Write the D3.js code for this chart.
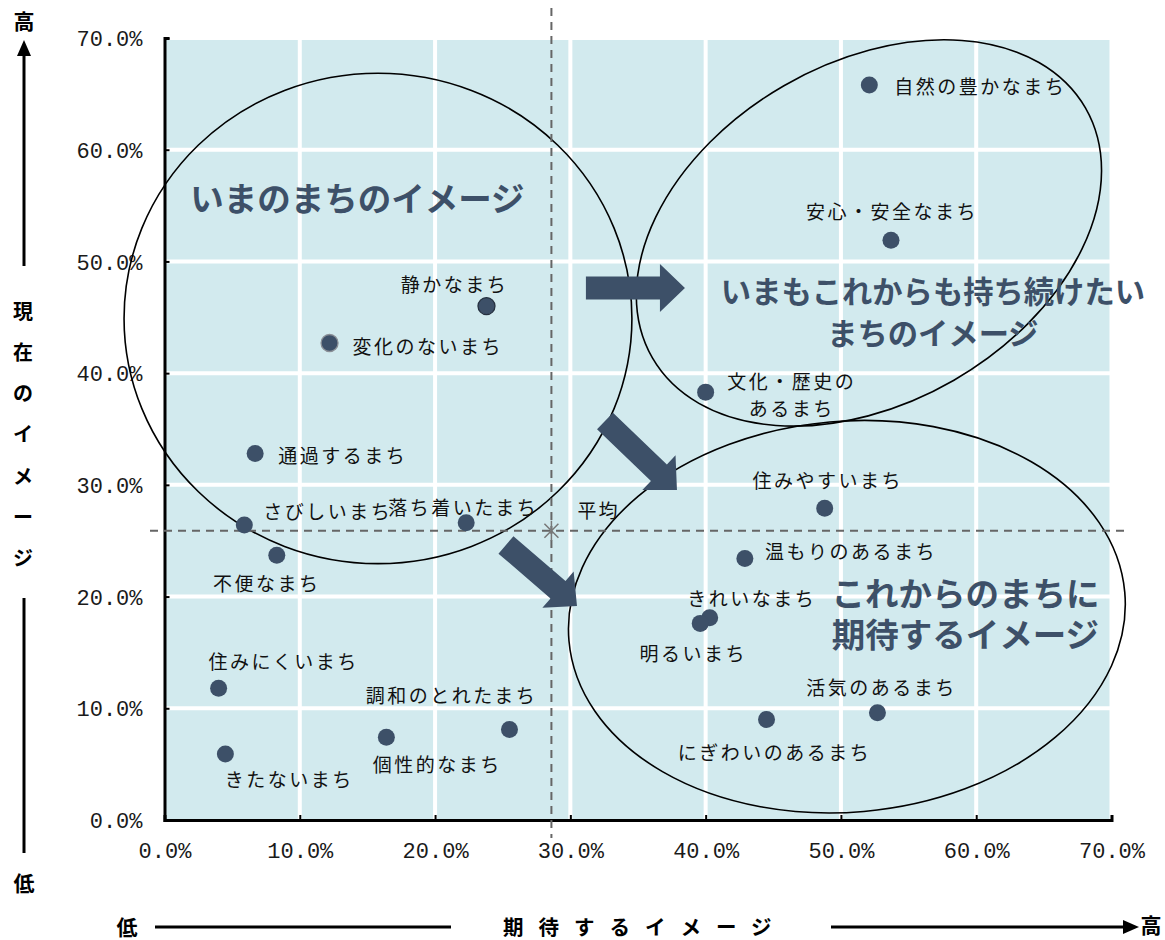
<!DOCTYPE html>
<html><head><meta charset="utf-8">
<script src="https://cdn.jsdelivr.net/npm/d3@7"></script>
<style>body{margin:0;background:#fff;} svg{display:block;}</style>
</head><body><svg id="c" width="1165" height="940"></svg>
<script>
// ---------- data ----------
const names = ["自然の豊かなまち","安心・安全なまち","静かなまち","変化のないまち","文化・歴史の\nあるまち","通過するまち","住みやすいまち","さびしいまち","落ち着いたまち","不便なまち","温もりのあるまち","きれいなまち","明るいまち","住みにくいまち","活気のあるまち","にぎわいのあるまち","調和のとれたまち","個性的なまち","きたないまち"];
const expectVals  = [52.1,53.7,23.8,12.2,40.0,6.7,48.8,5.9,22.3,8.3,42.9,40.3,39.6,4.0,52.7,44.5,25.5,16.4,4.5];
const currentVals = [65.8,51.9,46.0,42.7,38.3,32.8,27.9,26.4,26.6,23.7,23.4,18.1,17.6,11.8,9.6,9.0,8.1,7.4,5.9];
const averageVal = {x:28.6, y:25.9, label:"平均"};
const tickValues = [0,10,20,30,40,50,60,70];
const tickLabels = ["0.0%","10.0%","20.0%","30.0%","40.0%","50.0%","60.0%","70.0%"];
const groupTitles = [
  {lines:["いまのまちのイメージ"], x:1.9, y:55.9},
  {lines:["いまもこれからも持ち続けたい","まちのイメージ"], x:56.8, y:47.4},
  {lines:["これからのまちに","期待するイメージ"], x:59.2, y:20.5}
];
const yTitle = "現在のイメージ";
const xTitle = "期待するイメージ";
const highLabel = "高", lowLabel = "低";

// ---------- layout (positions / styles) ----------
const labelLayout = [
  {a:"start",dx:25,dy:0},{a:"middle",dx:1,dy:-30},{a:"middle",dx:-32,dy:-23},{a:"start",dx:23,dy:2},
  {a:"middle",dx:86,dy:-12},{a:"start",dx:23,dy:0},{a:"middle",dx:3,dy:-29},{a:"start",dx:19,dy:-15},
  {a:"middle",dx:-3,dy:-17},{a:"middle",dx:-10,dy:27},{a:"start",dx:20,dy:-9},{a:"middle",dx:42,dy:-21},
  {a:"middle",dx:-7,dy:29},{a:"middle",dx:65,dy:-28},{a:"middle",dx:4,dy:-27},{a:"middle",dx:8,dy:32},
  {a:"middle",dx:-58,dy:-36},{a:"middle",dx:51,dy:26},{a:"middle",dx:64,dy:24}
];
const dotStroke = {2:"#263140", 3:"#8a8f96"};
const ellipses = [
  {cx:15.78, cy:44.9, rx:18.77, ry:21.95, rot:0},
  {cx:52.07, cy:52.55, rx:18.48, ry:15.22, rot:-30},
  {cx:50.44, cy:18.2, rx:20.62, ry:17.5, rot:-5}
];
const arrows = [
  {x1:31.15,y1:47.63,x2:38.47,y2:47.63},
  {x1:32.56,y1:35.72,x2:37.88,y2:29.54},
  {x1:25.24,y1:24.62,x2:30.49,y2:19.16}
];

const m = {left:164.5, right:1111.5, top:38, bottom:820};
const dark = "#3d5068";
const bg = "#d2eaee";
const labFont = "'Noto Sans CJK JP','Noto Sans',sans-serif";
const numFont = "'Liberation Mono','DejaVu Sans Mono',monospace";

const svg = d3.select("#c");
const x = d3.scaleLinear().domain([0,70]).range([m.left,m.right]);
const y = d3.scaleLinear().domain([0,70]).range([m.bottom,m.top]);
const kx = x(1)-x(0), ky = y(0)-y(1);

// background
svg.append("rect").attr("x",m.left).attr("y",m.top).attr("width",m.right-m.left).attr("height",m.bottom-m.top).attr("fill",bg);
// grid
svg.append("g").selectAll("line").data(tickValues.slice(1)).join("line")
  .attr("x1",d=>x(d)).attr("x2",d=>x(d)).attr("y1",m.top).attr("y2",m.bottom)
  .attr("stroke","#fff").attr("stroke-width",4);
svg.append("g").selectAll("line").data(tickValues.slice(1)).join("line")
  .attr("y1",d=>y(d)).attr("y2",d=>y(d)).attr("x1",m.left).attr("x2",m.right)
  .attr("stroke","#fff").attr("stroke-width",4);

// axes
const xAxis = d3.axisBottom(x).tickValues(tickValues).tickSize(-5).tickFormat((d,i)=>tickLabels[i]).tickPadding(25);
const yAxis = d3.axisLeft(y).tickValues(tickValues).tickSize(-5).tickFormat((d,i)=>tickLabels[i]).tickPadding(22);
const gx = svg.append("g").attr("transform",`translate(0,${m.bottom})`).call(xAxis);
const gy = svg.append("g").attr("transform",`translate(${m.left},0)`).call(yAxis);
[gx,gy].forEach(g=>{
  g.select(".domain").attr("stroke","#000").attr("stroke-width",3);
  g.selectAll(".tick line").attr("stroke","#000").attr("stroke-width",2);
  g.selectAll("text").attr("font-family",numFont).attr("font-size",22).attr("fill","#1a1a1a");
});
gy.selectAll("text").attr("dy","0.35em");
gx.selectAll("text").attr("dy","0.6em");

// ellipses
svg.append("g").selectAll("ellipse").data(ellipses).join("ellipse")
  .attr("cx",0).attr("cy",0).attr("rx",d=>d.rx*kx).attr("ry",d=>d.ry*ky)
  .attr("transform",d=>`translate(${x(d.cx)},${y(d.cy)}) rotate(${d.rot})`)
  .attr("fill","none").attr("stroke","#000").attr("stroke-width",1.6);

// mean lines
svg.append("line").attr("x1",x(averageVal.x)).attr("x2",x(averageVal.x)).attr("y1",8).attr("y2",838)
  .attr("stroke","#666").attr("stroke-width",2).attr("stroke-dasharray","8,6");
svg.append("line").attr("y1",y(averageVal.y)).attr("y2",y(averageVal.y)).attr("x1",150).attr("x2",1125)
  .attr("stroke","#666").attr("stroke-width",2).attr("stroke-dasharray","8,6");
// average marker (asterisk)
const ax=x(averageVal.x), ay=y(averageVal.y);
svg.append("path").attr("d",`M${ax-7},${ay-7}L${ax+7},${ay+7}M${ax-7},${ay+7}L${ax+7},${ay-7}M${ax},${ay-10}L${ax},${ay+10}`)
  .attr("stroke","#777").attr("stroke-width",1.5).attr("fill","none");
svg.append("text").attr("x",ax+26).attr("y",ay-21).attr("dominant-baseline","central")
  .attr("font-family",labFont).attr("font-size",19).attr("letter-spacing",2).attr("fill","#111").text(averageVal.label);

// arrows
function arrowPath(d){
  const p1=[x(d.x1),y(d.y1)], p2=[x(d.x2),y(d.y2)];
  const L=Math.hypot(p2[0]-p1[0],p2[1]-p1[1]);
  const u=[(p2[0]-p1[0])/L,(p2[1]-p1[1])/L], n=[-u[1],u[0]];
  const sw=11.5, hw=24, hl=25;
  const b=[p2[0]-u[0]*hl,p2[1]-u[1]*hl];
  const pts=[
    [p1[0]+n[0]*sw,p1[1]+n[1]*sw],[b[0]+n[0]*sw,b[1]+n[1]*sw],[b[0]+n[0]*hw,b[1]+n[1]*hw],
    p2,[b[0]-n[0]*hw,b[1]-n[1]*hw],[b[0]-n[0]*sw,b[1]-n[1]*sw],[p1[0]-n[0]*sw,p1[1]-n[1]*sw]];
  return "M"+pts.map(p=>p.join(",")).join("L")+"Z";
}
svg.append("g").selectAll("path").data(arrows).join("path").attr("d",arrowPath).attr("fill",dark);

// group titles
groupTitles.forEach((g,gi)=>{
  const fs = gi===1?30.3:33.5;
  const t = svg.append("text").attr("font-family",labFont).attr("font-weight",700).attr("font-size",fs)
    .attr("fill",dark).attr("text-anchor",gi===0?"start":"middle").attr("dominant-baseline","central");
  g.lines.forEach((ln,i)=>{
    t.append("tspan").attr("x",x(g.x)).attr("y",y(g.y)+i*(gi===1?42:41)).text(ln);
  });
});

// points
const pts = names.map((n,i)=>({name:n,x:expectVals[i],y:currentVals[i],i}));
svg.append("g").selectAll("circle").data(pts).join("circle")
  .attr("cx",d=>x(d.x)).attr("cy",d=>y(d.y)).attr("r",8.5).attr("fill",dark)
  .attr("stroke",d=>dotStroke[d.i]||"none").attr("stroke-width",d=>dotStroke[d.i]?1.3:0);
// labels
const lg = svg.append("g");
pts.forEach(d=>{
  const L=labelLayout[d.i];
  const t=lg.append("text").attr("font-family",labFont).attr("font-size",19).attr("letter-spacing",2.5)
    .attr("fill","#111").attr("text-anchor",L.a).attr("dominant-baseline","central");
  d.name.split("\n").forEach((ln,k)=>{
    t.append("tspan").attr("x",x(d.x)+L.dx).attr("y",y(d.y)+L.dy+k*27).text(ln);
  });
});

// axis titles
function txt(xx,yy,s,opts={}){
  return svg.append("text").attr("x",xx).attr("y",yy).attr("font-family",labFont).attr("font-weight",700)
   .attr("font-size",opts.size||21).attr("fill","#000").attr("text-anchor",opts.anchor||"middle")
   .attr("dominant-baseline","central").attr("letter-spacing",opts.ls||0).text(s);
}
// vertical (left)
txt(24,20,highLabel);
svg.append("line").attr("x1",24).attr("x2",24).attr("y1",52).attr("y2",266).attr("stroke","#000").attr("stroke-width",3);
svg.append("path").attr("d","M24,40L31,56L17,56Z").attr("fill","#000");
Array.from(yTitle).forEach((c,i)=>txt(23,310+i*41.3,c,{size:20}));
svg.append("line").attr("x1",24).attr("x2",24).attr("y1",598).attr("y2",853).attr("stroke","#000").attr("stroke-width",3);
txt(24,882,lowLabel);
// horizontal (bottom)
txt(127,926,lowLabel);
svg.append("line").attr("x1",155).attr("x2",451).attr("y1",927).attr("y2",927).attr("stroke","#000").attr("stroke-width",3);
txt(503,926,xTitle,{anchor:"start",ls:15,size:20.5});
svg.append("line").attr("x1",831).attr("x2",1124).attr("y1",927).attr("y2",927).attr("stroke","#000").attr("stroke-width",3);
svg.append("path").attr("d","M1139,927L1123,920L1123,934Z").attr("fill","#000");
txt(1151,924,highLabel);
</script></body></html>
